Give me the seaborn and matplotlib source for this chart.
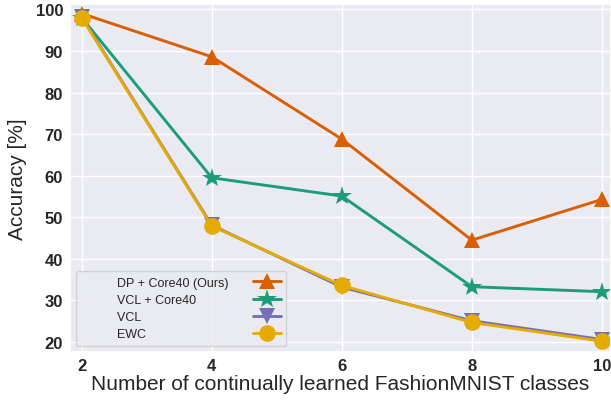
import numpy as np
import pandas as pd
import matplotlib
matplotlib.use('Agg')
import matplotlib.pyplot as plt
import seaborn as sns

# Data
classes = [2, 4, 6, 8, 10]
dp_core40 = [99.0, 88.6, 68.8, 44.5, 54.3]
vcl_core40 = [98.0, 59.5, 55.1, 33.3, 32.1]
vcl = [98.2, 48.1, 33.2, 25.1, 20.6]
ewc = [98.0, 47.9, 33.6, 24.7, 20.2]

labels = ['DP + Core40 (Ours)', 'VCL + Core40', 'VCL', 'EWC']
markers = ['^', '*', 'v', 'o']
msizes = [12, 15, 12, 12]
colors = ['#d95f02', '#1b9e77', '#7570b3', '#e6ab02']

sns.set_theme(style='darkgrid')
plt.rcParams['font.family'] = ['Liberation Sans', 'DejaVu Sans']

fig = plt.figure(figsize=(6.11, 4.02), dpi=100)
ax = fig.add_axes([0.1146, 0.1219, 0.8854, 0.8657])

series = [dp_core40, vcl_core40, vcl, ewc]
for vals, lab, mk, ms, col in zip(series, labels, markers, msizes, colors):
    sns.lineplot(x=classes, y=vals, ax=ax, color=col, marker=mk, markersize=ms,
                 markeredgewidth=0, linewidth=2.1, label='          ' + lab)

ax.set_xlim(1.82, 10.14)
ax.set_ylim(17.6, 101.3)
ax.set_xticks(classes)
ax.set_yticks(range(20, 101, 10))
ax.tick_params(axis='both', labelsize=12, length=0)
ax.tick_params(axis='y', pad=5)
ax.tick_params(axis='x', pad=4)
for t in ax.get_xticklabels() + ax.get_yticklabels():
    t.set_fontweight('bold')
ax.set_xlabel('Number of continually learned FashionMNIST classes', fontsize=15, labelpad=1)
ax.set_ylabel('Accuracy [%]', fontsize=15, labelpad=6)

leg = ax.legend(loc='lower left', bbox_to_anchor=(0.011, 0.017), borderaxespad=0,
                markerfirst=False, fontsize=9, labelspacing=0.42, handlelength=2.2,
                borderpad=0.45, frameon=True)
# text on the left, markers lined up on the right
for col in leg._legend_handle_box.get_children():
    for row in col.get_children():
        row.mode = 'expand'
        row.width = 199

fig.savefig('out.png', dpi=100)
